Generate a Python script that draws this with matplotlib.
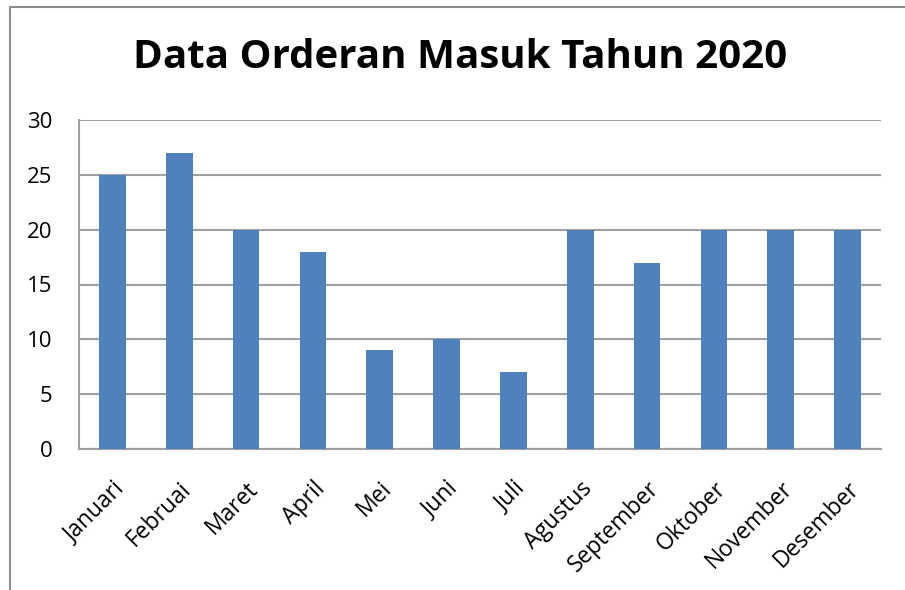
import matplotlib.pyplot as plt
from matplotlib.patches import Rectangle

# data
months = ['Januari', 'Februai', 'Maret', 'April', 'Mei', 'Juni', 'Juli',
          'Agustus', 'September', 'Oktober', 'November', 'Desember']
orders = [25, 27, 20, 18, 9, 10, 7, 20, 17, 20, 20, 20]
y_ticks = [0, 5, 10, 15, 20, 25, 30]

plt.rcParams['font.family'] = ['Open Sans', 'DejaVu Sans']

fig = plt.figure(figsize=(9.05, 5.9), dpi=100)
ax = fig.add_axes([79 / 905, 1 - 449 / 590, 802 / 905, 329 / 590])

# outer chart border
fig.patches.append(Rectangle((10 / 905, -0.1), 1.2, 1 - 7 / 590 + 0.1,
                             transform=fig.transFigure, fill=False,
                             edgecolor='#8c8c8c', linewidth=1.5))

x = range(len(months))
ax.bar(x, orders, width=0.4, color='#4F81BD', zorder=3)

ax.set_xlim(-0.5, len(months) - 0.5)
ax.set_ylim(0, 30)
ax.set_yticks(y_ticks)
ax.set_yticklabels([str(v) for v in y_ticks], fontsize=16)
ax.set_xticks(list(x))
ax.set_xticklabels(months, rotation=45, ha='right', rotation_mode='anchor',
                   fontsize=16.5)
ax.tick_params(axis='both', length=0)
ax.tick_params(axis='x', pad=20)
ax.tick_params(axis='y', pad=19)

ax.yaxis.grid(True, color='#a0a0a0', linewidth=1.5, zorder=0)
for s in ['top', 'right']:
    ax.spines[s].set_visible(False)
ax.spines['left'].set_color('#a0a0a0')
ax.spines['left'].set_linewidth(1.5)
ax.spines['bottom'].set_color('#a0a0a0')
ax.spines['bottom'].set_linewidth(1.5)

fig.text(460 / 905, 1 - 58 / 590, 'Data Orderan Masuk Tahun 2020',
         ha='center', va='center', fontsize=29, fontweight='bold')

fig.savefig('out.png', dpi=100)
